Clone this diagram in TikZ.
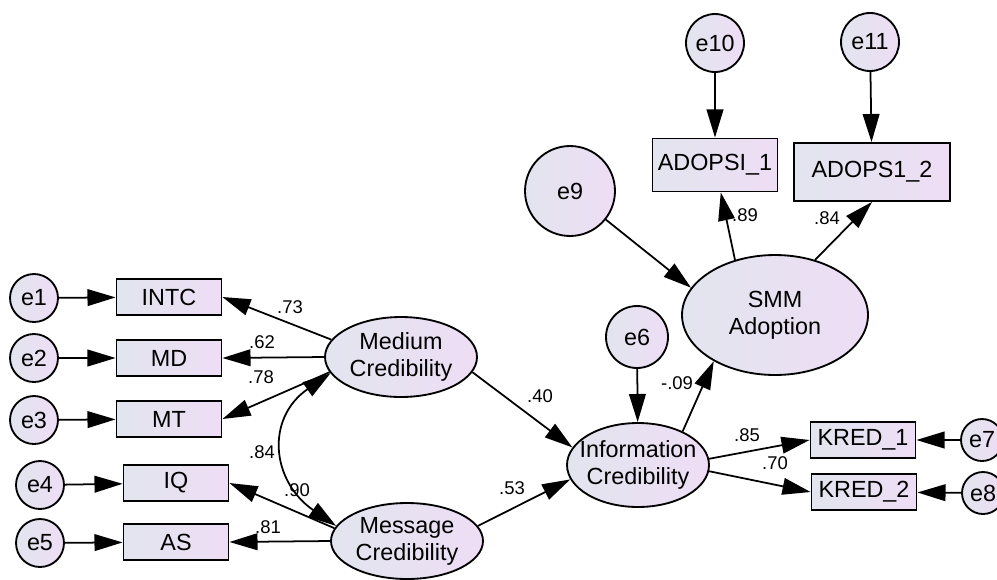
\documentclass[tikz,border=0pt]{standalone}
\usepackage{fontspec}
\setmainfont{Liberation Sans}
\usetikzlibrary{shapes.geometric,arrows.meta}
\definecolor{fillL}{RGB}{226,229,238}
\definecolor{fillR}{RGB}{238,221,245}
\begin{document}
\begin{tikzpicture}[x=0.02cm,y=-0.02cm,
 sembase/.style={draw=black, line width=1.05pt, left color=fillL, right color=fillR, inner sep=0pt, font=\fontsize{13.3}{15.5}\selectfont, align=center},
 semobs/.style={sembase, rectangle, minimum width=2.1cm, minimum height=0.72cm},
 semerr/.style={sembase, circle, minimum size=#1},
 semerr/.default=0.96cm,
 semlat/.style={sembase, ellipse},
 latlab/.style={label={[font=\fontsize{13.3}{15.5}\selectfont, align=center]center:#1}},
 semreg/.style={line width=1pt, -{Triangle[length=16pt,width=9.5pt]}},
 semcov/.style={line width=1pt, {Triangle[length=16pt,width=9.5pt]}-{Triangle[length=16pt,width=9.5pt]}},
 coef/.style={font=\fontsize{10.5}{12}\selectfont, inner sep=1pt}]
\useasboundingbox (0,0) rectangle (997,579);

% error terms
\node[semerr] (e1) at (34,298) {e1};
\node[semerr] (e2) at (34,358) {e2};
\node[semerr] (e3) at (34,420) {e3};
\node[semerr] (e4) at (40,485) {e4};
\node[semerr] (e5) at (40,543) {e5};
\node[semerr=1.24cm] (e6) at (637,337) {e6};
\node[semerr=0.84cm] (e7) at (982,440) {e7};
\node[semerr=0.84cm] (e8) at (983,493) {e8};
\node[semerr=1.8cm] (e9) at (570,191) {e9};
\node[semerr=1.16cm] (e10) at (715,43) {e10};
\node[semerr=1.16cm] (e11) at (870,42) {e11};

% observed
\node[semobs] (INTC) at (169,297) {INTC};
\node[semobs] (MD) at (169,358) {MD};
\node[semobs] (MT) at (169,419) {MT};
\node[semobs] (IQ) at (176,483) {IQ};
\node[semobs] (AS) at (176,542) {AS};
\node[semobs] (kred1) at (863,440) {KRED\_1};
\node[semobs] (kred2) at (864,492) {KRED\_2};
\node[semobs, minimum width=2.5cm, minimum height=1.06cm] (ad1) at (715,165) {ADOPSI\_1};
\node[semobs, minimum width=3.12cm, minimum height=1.16cm] (ad2) at (872,172) {ADOPS1\_2};

% latent
\node[semlat, minimum width=3.04cm, minimum height=1.6cm, latlab={Medium\\Credibility}] (med) at (401,357) {};
\node[semlat, minimum width=3.04cm, minimum height=1.52cm, latlab={Message\\Credibility}] (msg) at (407,541) {};
\node[semlat, minimum width=2.84cm, minimum height=1.68cm, latlab={Information\\Credibility}] (info) at (638,465) {};
\node[semlat, minimum width=3.72cm, minimum height=2.4cm, latlab={SMM\\Adoption}] (smm) at (775,315) {};

% error arrows
\draw[semreg] (e1) -- (INTC);
\draw[semreg] (e2) -- (MD);
\draw[semreg] (e3) -- (MT);
\draw[semreg] (e4) -- (IQ);
\draw[semreg] (e5) -- (AS);
\draw[semreg] (e6) -- (info);
\draw[semreg] (e7) -- (kred1);
\draw[semreg] (e8) -- (kred2);
\draw[semreg] (e9) -- (smm.162);
\draw[semreg] (e10) -- (ad1);
\draw[semreg] (e11) -- (ad2);

% loadings
\draw[semreg] (med.166) -- (INTC.east);
\draw[semreg] (med.west) -- (MD.east);
\draw[semreg] (med.192) -- (MT.east);
\draw[semreg] (msg.170) -- (IQ.east);
\draw[semreg] (msg.west) -- (AS.east);
\draw[semreg] (info.5) -- (kred1.west);
\draw[semreg] (info.-5) -- (kred2.west);
\draw[semreg] (smm.126) -- (ad1);
\draw[semreg] (smm.54) -- (ad2.south);

% structural paths
\draw[semreg] (med.-12) -- (info.165);
\draw[semreg] (msg.12) -- (info.192);
\draw[semreg] (info.37) -- (smm.217);

% covariance
\draw[semcov] (med.193) .. controls +(-65,45) and +(-65,-45) .. (msg.168);

% coefficients
\node[coef] (c73) at (290,307) {.73};
\node[coef] (c62) at (262,342) {.62};
\node[coef] (c78) at (261,377) {.78};
\node[coef] (c84a) at (262,452) {.84};
\node[coef] (c90) at (297,490) {.90};
\node[coef] (c81) at (268,527) {.81};
\node[coef] (c40) at (540,396) {.40};
\node[coef] (c53) at (512,488) {.53};
\node[coef] (c09) at (677,383) {-.09};
\node[coef] (c85) at (747,435) {.85};
\node[coef] (c70) at (775,463) {.70};
\node[coef] (c89) at (745,215) {.89};
\node[coef] (c84b) at (827,218) {.84};
\end{tikzpicture}
\end{document}
